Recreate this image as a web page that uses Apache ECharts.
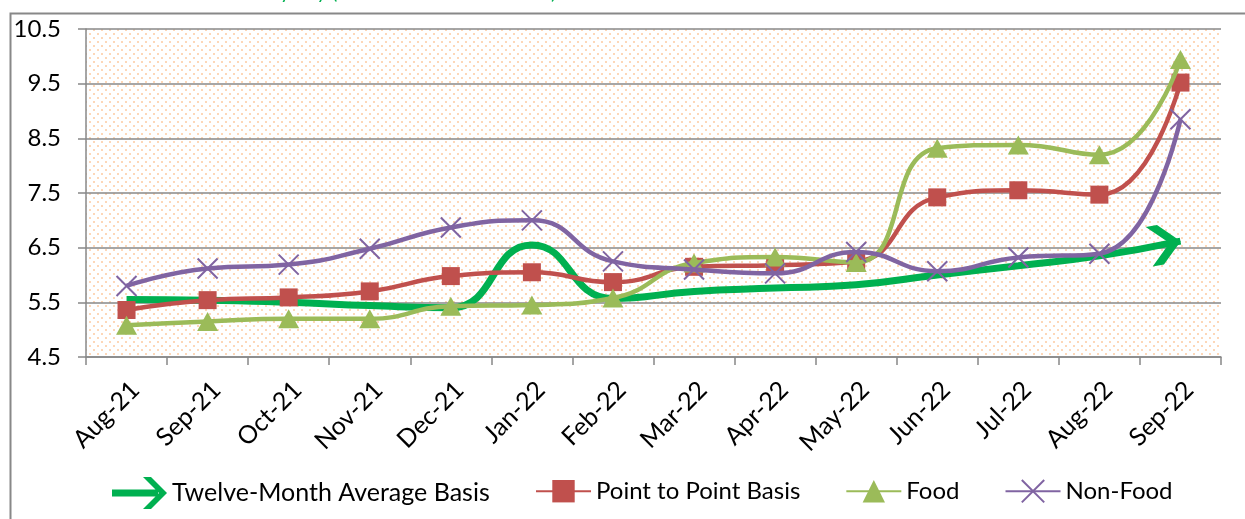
<!DOCTYPE html>
<html>
<head>
<meta charset="utf-8">
<script src="https://cdn.jsdelivr.net/npm/echarts@6/dist/echarts.min.js"></script>
<style>
html,body{margin:0;padding:0;background:#fff;}
#chart{width:1245px;height:519px;}
</style>
</head>
<body>
<div id="chart"></div>
<script>
const categories = ['Aug-21','Sep-21','Oct-21','Nov-21','Dec-21','Jan-22','Feb-22','Mar-22','Apr-22','May-22','Jun-22','Jul-22','Aug-22','Sep-22'];
const twelveMonthAvg = [5.55, 5.54, 5.50, 5.44, 5.40, 6.55, 5.57, 5.70, 5.76, 5.82, 6.00, 6.17, 6.35, 6.62];
const pointToPoint   = [5.36, 5.54, 5.59, 5.70, 5.98, 6.05, 5.87, 6.15, 6.18, 6.24, 7.42, 7.55, 7.47, 9.52];
const food           = [5.08, 5.15, 5.20, 5.20, 5.43, 5.45, 5.58, 6.22, 6.33, 6.23, 8.32, 8.38, 8.20, 9.94];
const nonFood        = [5.80, 6.12, 6.19, 6.48, 6.87, 7.00, 6.25, 6.10, 6.03, 6.42, 6.07, 6.32, 6.39, 8.85];
const yTickLabels = ['4.5','5.5','6.5','7.5','8.5','9.5','10.5'];
const seriesNames = ['Twelve-Month Average Basis','Point to Point Basis','Food','Non-Food'];
const titleText = 'Chart 1: Trends in CPI Inflation y-o-y (Base Year 2015-16=100)';

// axis starts at 4.5 with unit steps: plot values relative to the axis base
const AXIS_BASE = 4.5;
const rel = arr => arr.map(v => +(v - AXIS_BASE).toFixed(4));

// dotted background pattern
const pc = document.createElement('canvas');
pc.width = 8; pc.height = 8;
const pctx = pc.getContext('2d');
pctx.fillStyle = '#fdd7b8';
pctx.fillRect(1, 1, 2, 2);
pctx.fillRect(5, 5, 2, 2);

const FONT = 'Lato, "Open Sans", sans-serif';
const GRAY = '#888888';
const chevron = 'path://M0,0 L10,0 L28,18 L10,36 L0,36 L18,18 Z';
const arrowIcon = 'path://M0,12.5 L46,12.5 L46,19.5 L0,19.5 Z M31,0 L39,0 L55,16 L39,32 L31,32 L47,16 Z';
const crossPath = 'path://M0,0 L10,10 M10,0 L0,10';

const avgData = rel(twelveMonthAvg).map((v, i, a) => i === a.length - 1 ? {
  value: v, symbol: chevron, symbolSize: [32, 40], symbolKeepAspect: false,
  symbolRotate: 10, symbolOffset: [-15.5, 2.8],
  itemStyle: {color: '#00b050', borderWidth: 0}
} : v);

const chart = echarts.init(document.getElementById('chart'), null, {renderer: 'canvas'});
chart.setOption({
  animation: false,
  backgroundColor: '#ffffff',
  graphic: [
    {type: 'polyline', shape: {points: [[10.5, 519], [10.5, 13.5], [1245, 13.5]]},
     style: {stroke: GRAY, lineWidth: 2, fill: null}, z: 0},
    {type: 'text', x: 6, y: 3, style: {text: titleText, fill: '#00b050', font: '20px ' + FONT, textVerticalAlign: 'bottom'}}
  ],
  grid: {left: 86, right: 24, top: 29, bottom: 162, show: true,
    backgroundColor: {image: pc, repeat: 'repeat'}, borderWidth: 0},
  legend: [
    {left: 107, top: 472, itemWidth: 55, itemHeight: 33,
     textStyle: {fontFamily: FONT, fontSize: 25, color: '#000'},
     data: [{name: seriesNames[0], icon: arrowIcon}]},
    {left: 530, top: 474, itemWidth: 55, itemHeight: 28, itemGap: 45,
     textStyle: {fontFamily: FONT, fontSize: 24, color: '#000'},
     data: [seriesNames[1], seriesNames[2], seriesNames[3]]}
  ],
  xAxis: {
    type: 'category', data: categories, boundaryGap: true,
    axisLine: {lineStyle: {color: GRAY, width: 1.5}},
    axisTick: {show: true, length: 8, lineStyle: {color: GRAY, width: 1.5}},
    axisLabel: {rotate: 45, margin: 20, fontFamily: FONT, fontSize: 25, color: '#000', verticalAlign: 'top', interval: 0},
    splitLine: {show: false}
  },
  yAxis: {
    type: 'value', min: 0, max: 6, interval: 1,
    axisLine: {show: true, lineStyle: {color: GRAY, width: 1.5}},
    axisTick: {show: true, length: 8, lineStyle: {color: GRAY, width: 1.5}},
    axisLabel: {margin: 25, fontFamily: FONT, fontSize: 24, color: '#000',
      formatter: v => yTickLabels[Math.round(v)]},
    splitLine: {show: true, lineStyle: {color: GRAY, width: 1.5}}
  },
  series: [
    {name: seriesNames[0], type: 'line', data: avgData, smooth: 0.5, symbol: 'none',
     color: '#00b050', lineStyle: {color: '#00b050', width: 7}, z: 2},
    {name: seriesNames[1], type: 'line', data: rel(pointToPoint), smooth: 0.5,
     symbol: 'rect', symbolSize: 18, color: '#c0504d',
     itemStyle: {color: '#c0504d'}, lineStyle: {color: '#c0504d', width: 4.5}, z: 3},
    {name: seriesNames[2], type: 'line', data: rel(food), smooth: 0.5,
     symbol: 'triangle', symbolSize: [21, 19], color: '#9bbb59',
     itemStyle: {color: '#9bbb59'}, lineStyle: {color: '#9bbb59', width: 4.5}, z: 4},
    {name: seriesNames[3], type: 'line', data: rel(nonFood), smooth: 0.5,
     symbol: crossPath, symbolSize: 20, color: '#8064a2',
     itemStyle: {color: 'transparent', borderColor: '#8064a2', borderWidth: 2},
     lineStyle: {color: '#8064a2', width: 4.5}, z: 5}
  ]
});
</script>
</body>
</html>
